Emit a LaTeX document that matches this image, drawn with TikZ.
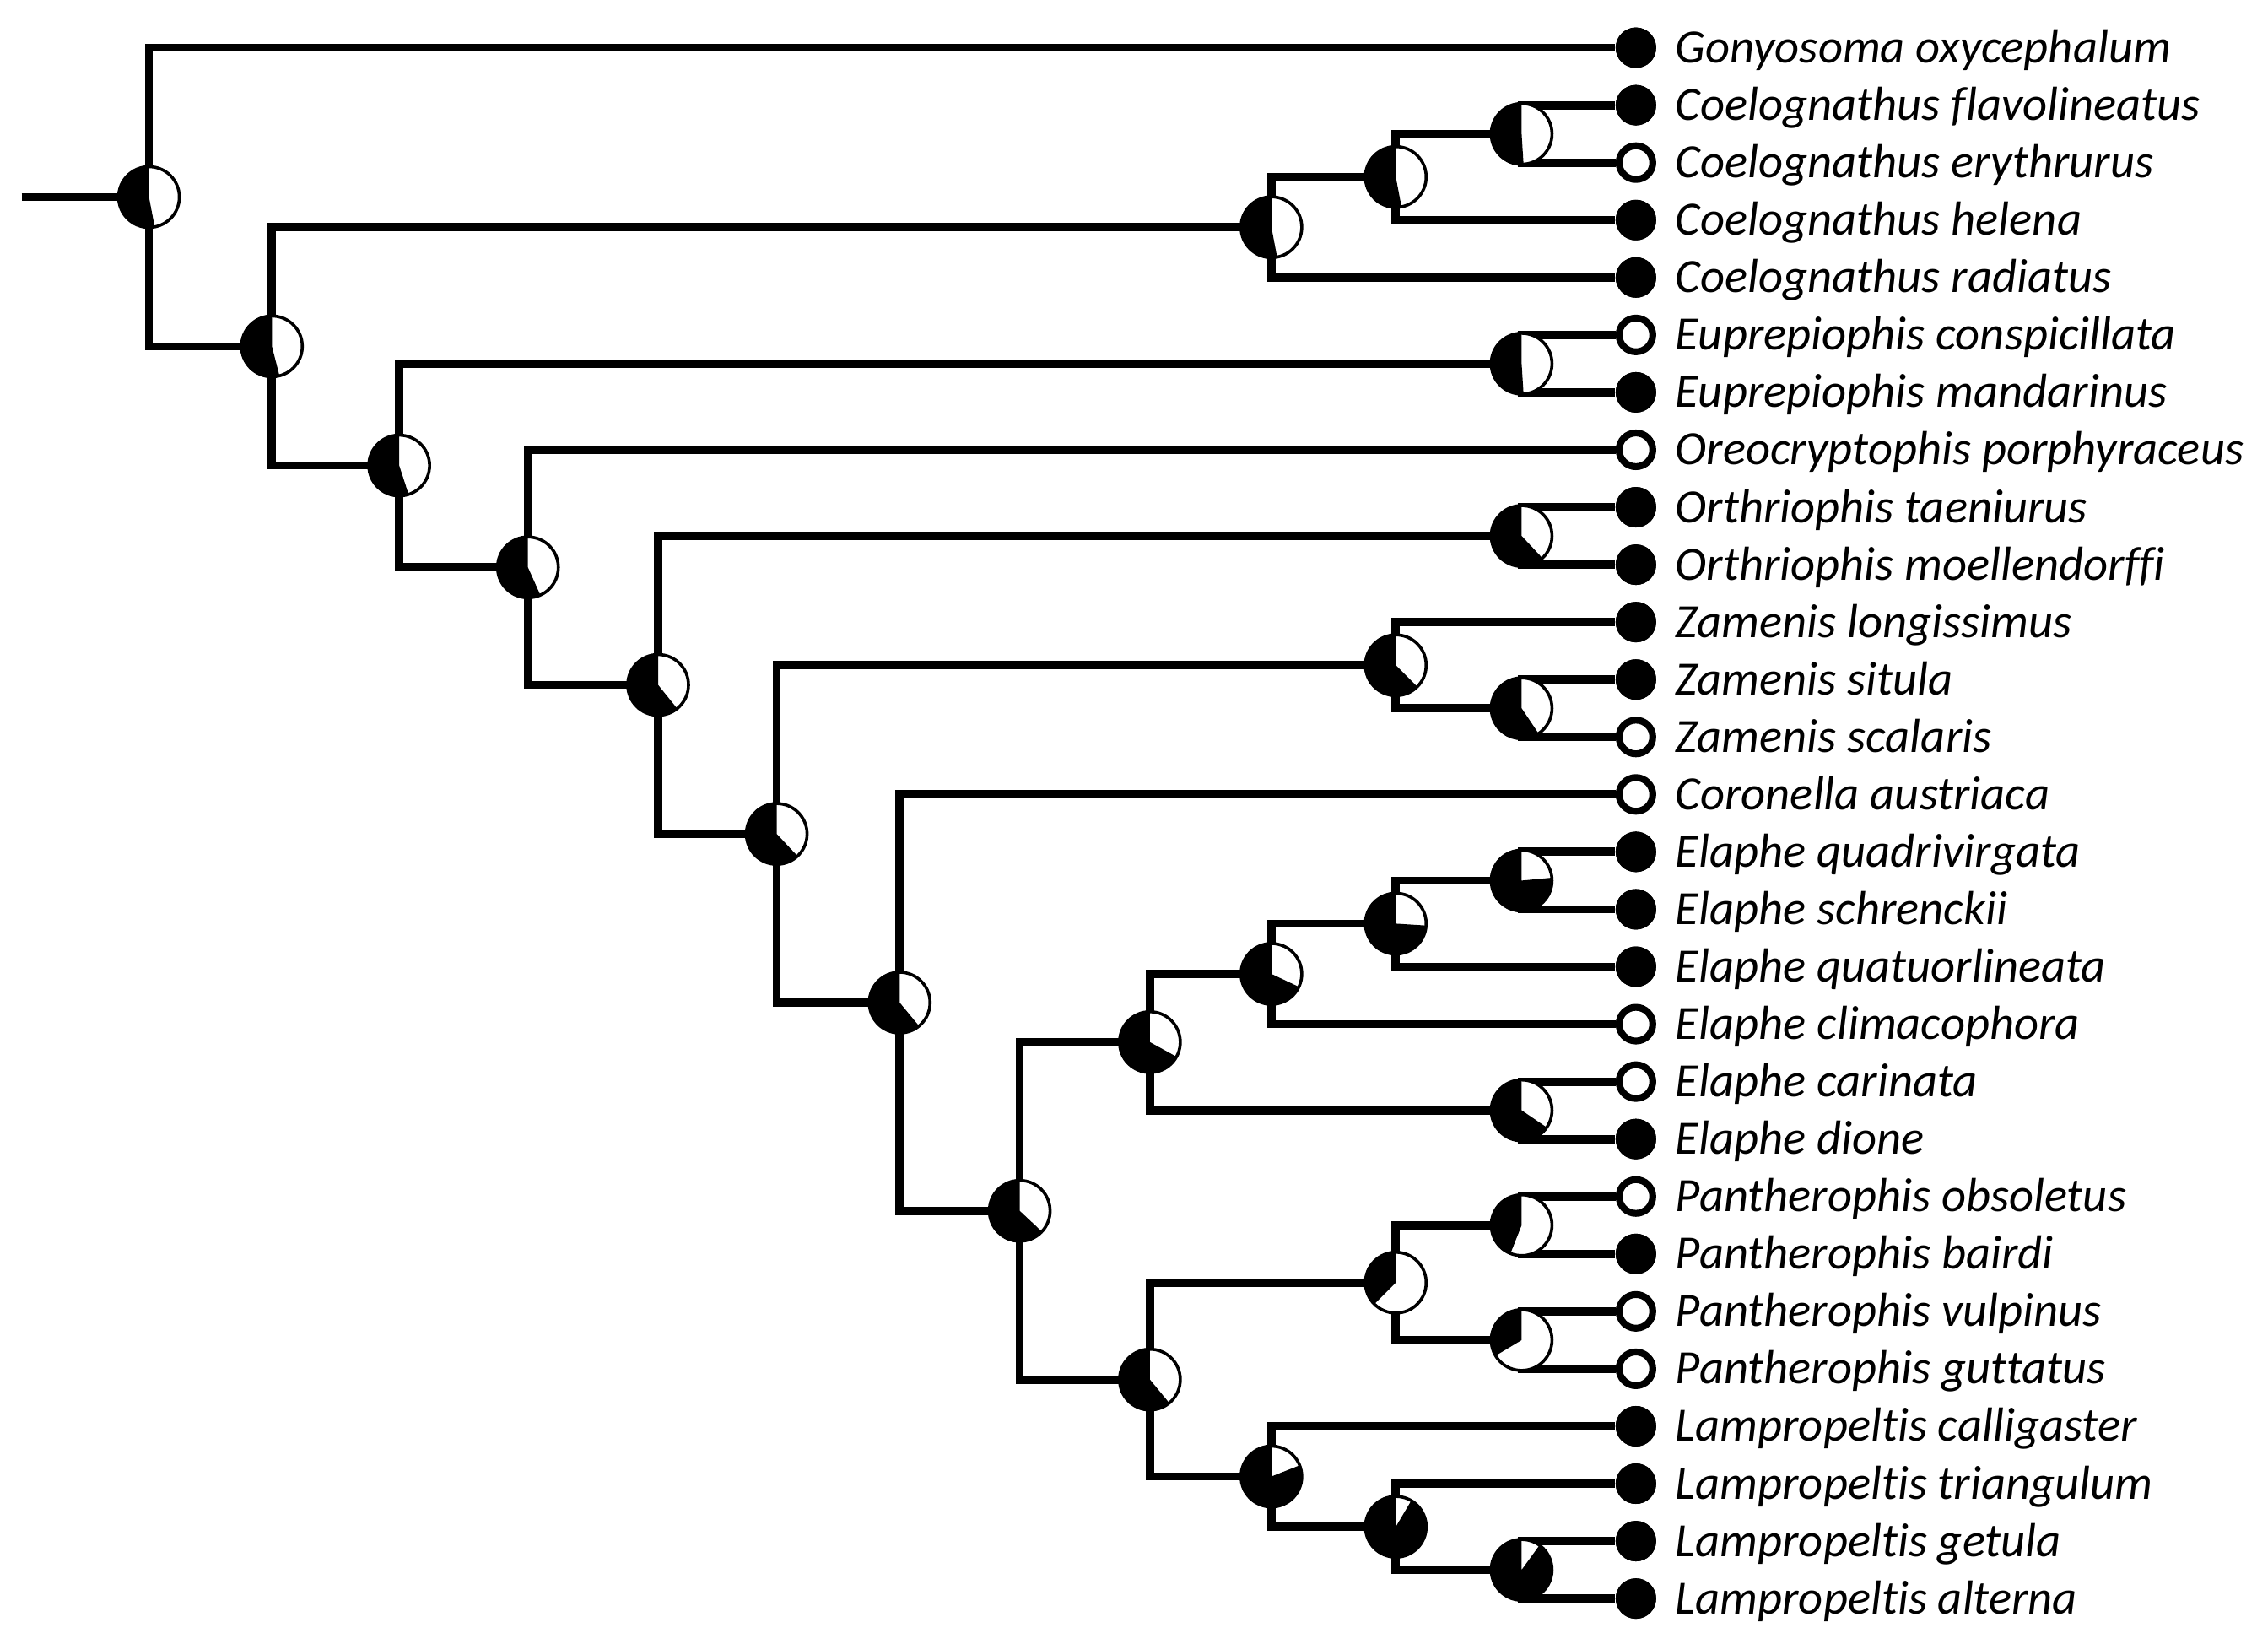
\documentclass[tikz,border=0pt]{standalone}
\usepackage{fontspec}
\setmainfont{Carlito}[Ligatures=NoCommon]
\newcommand\mypie[2]{%
  \fill[white] (#1) circle[radius=21];
  \fill[black] (#1) -- ++(90:21) arc[start angle=90, delta angle={360*#2}, radius=21] -- cycle;
  \draw[line width=1.2pt] (#1) circle[radius=21];
}
\begin{document}
\begin{tikzpicture}[x=0.02cm,y=0.02cm,
  branch/.style={line width=3.25pt, line cap=butt, line join=miter},
  tipf/.style={circle, fill=black, inner sep=0pt, minimum size=0.56cm},
  tipo/.style={circle, draw=black, fill=white, line width=2.7pt, inner sep=0pt, minimum size=0.466cm},
  lab/.style={anchor=base west, inner sep=0pt, font=\itshape\fontsize{18.8}{22}\selectfont}]
\useasboundingbox (0,0) rectangle (1568,-1136);

% internal nodes
\coordinate (stem) at (15,-136.2);
\coordinate (R) at (103,-136.2);
\coordinate (N1) at (188,-239.4);
\coordinate (C9) at (879,-157.05);
\coordinate (C10) at (965,-122.3);
\coordinate (C11) at (1052,-92.55);
\coordinate (N2) at (276,-321.75);
\coordinate (E11) at (1052,-251.35);
\coordinate (N3) at (365,-392.15);
\coordinate (N4) at (455,-473.4);
\coordinate (O11) at (1052,-370.45);
\coordinate (N5) at (537,-576.4);
\coordinate (Z10) at (965,-459.8);
\coordinate (Z11) at (1052,-489.55);
\coordinate (N6) at (622,-693);
\coordinate (N7) at (705,-836.9);
\coordinate (EL8) at (795,-720.3);
\coordinate (EL9) at (879,-673.15);
\coordinate (EL10) at (965,-638.4);
\coordinate (EL11) at (1052,-608.65);
\coordinate (EC11) at (1052,-767.45);
\coordinate (PL8) at (795,-953.55);
\coordinate (P10) at (965,-886.55);
\coordinate (P11a) at (1052,-846.85);
\coordinate (P11b) at (1052,-926.25);
\coordinate (LA9) at (879,-1020.55);
\coordinate (LA10) at (965,-1055.3);
\coordinate (LA11) at (1052,-1085.05);

% tips
\node[tipf] (t0) at (1131,-33) {};
\node[tipf] (t1) at (1131,-72.7) {};
\node[tipo] (t2) at (1131,-112.4) {};
\node[tipf] (t3) at (1131,-152.1) {};
\node[tipf] (t4) at (1131,-191.8) {};
\node[tipo] (t5) at (1131,-231.5) {};
\node[tipf] (t6) at (1131,-271.2) {};
\node[tipo] (t7) at (1131,-310.9) {};
\node[tipf] (t8) at (1131,-350.6) {};
\node[tipf] (t9) at (1131,-390.3) {};
\node[tipf] (t10) at (1131,-430) {};
\node[tipf] (t11) at (1131,-469.7) {};
\node[tipo] (t12) at (1131,-509.4) {};
\node[tipo] (t13) at (1131,-549.1) {};
\node[tipf] (t14) at (1131,-588.8) {};
\node[tipf] (t15) at (1131,-628.5) {};
\node[tipf] (t16) at (1131,-668.2) {};
\node[tipo] (t17) at (1131,-707.9) {};
\node[tipo] (t18) at (1131,-747.6) {};
\node[tipf] (t19) at (1131,-787.3) {};
\node[tipo] (t20) at (1131,-827) {};
\node[tipf] (t21) at (1131,-866.7) {};
\node[tipo] (t22) at (1131,-906.4) {};
\node[tipo] (t23) at (1131,-946.1) {};
\node[tipf] (t24) at (1131,-985.8) {};
\node[tipf] (t25) at (1131,-1025.5) {};
\node[tipf] (t26) at (1131,-1065.2) {};
\node[tipf] (t27) at (1131,-1104.9) {};

% branches
\draw[branch] (stem) -- (R);
\draw[branch] (R) |- (t0);  \draw[branch] (R) |- (N1);
\draw[branch] (N1) |- (C9); \draw[branch] (N1) |- (N2);
\draw[branch] (C9) |- (C10); \draw[branch] (C9) |- (t4);
\draw[branch] (C10) |- (C11); \draw[branch] (C10) |- (t3);
\draw[branch] (C11) |- (t1); \draw[branch] (C11) |- (t2);
\draw[branch] (N2) |- (E11); \draw[branch] (N2) |- (N3);
\draw[branch] (E11) |- (t5); \draw[branch] (E11) |- (t6);
\draw[branch] (N3) |- (t7); \draw[branch] (N3) |- (N4);
\draw[branch] (N4) |- (O11); \draw[branch] (N4) |- (N5);
\draw[branch] (O11) |- (t8); \draw[branch] (O11) |- (t9);
\draw[branch] (N5) |- (Z10); \draw[branch] (N5) |- (N6);
\draw[branch] (Z10) |- (t10); \draw[branch] (Z10) |- (Z11);
\draw[branch] (Z11) |- (t11); \draw[branch] (Z11) |- (t12);
\draw[branch] (N6) |- (t13); \draw[branch] (N6) |- (N7);
\draw[branch] (N7) |- (EL8); \draw[branch] (N7) |- (PL8);
\draw[branch] (EL8) |- (EL9); \draw[branch] (EL8) |- (EC11);
\draw[branch] (EL9) |- (EL10); \draw[branch] (EL9) |- (t17);
\draw[branch] (EL10) |- (EL11); \draw[branch] (EL10) |- (t16);
\draw[branch] (EL11) |- (t14); \draw[branch] (EL11) |- (t15);
\draw[branch] (EC11) |- (t18); \draw[branch] (EC11) |- (t19);
\draw[branch] (PL8) |- (P10); \draw[branch] (PL8) |- (LA9);
\draw[branch] (P10) |- (P11a); \draw[branch] (P10) |- (P11b);
\draw[branch] (P11a) |- (t20); \draw[branch] (P11a) |- (t21);
\draw[branch] (P11b) |- (t22); \draw[branch] (P11b) |- (t23);
\draw[branch] (LA9) |- (t24); \draw[branch] (LA9) |- (LA10);
\draw[branch] (LA10) |- (t25); \draw[branch] (LA10) |- (LA11);
\draw[branch] (LA11) |- (t26); \draw[branch] (LA11) |- (t27);

% pies
\mypie{R}{0.53}
\mypie{N1}{0.54}
\mypie{N2}{0.55}
\mypie{N3}{0.567}
\mypie{N4}{0.608}
\mypie{N5}{0.62}
\mypie{N6}{0.61}
\mypie{N7}{0.63}
\mypie{C9}{0.53}
\mypie{C10}{0.53}
\mypie{C11}{0.51}
\mypie{E11}{0.51}
\mypie{O11}{0.62}
\mypie{Z10}{0.625}
\mypie{Z11}{0.594}
\mypie{EL8}{0.67}
\mypie{EL9}{0.68}
\mypie{EL10}{0.74}
\mypie{EL11}{0.765}
\mypie{EC11}{0.655}
\mypie{PL8}{0.61}
\mypie{P10}{0.375}
\mypie{P11a}{0.44}
\mypie{P11b}{0.336}
\mypie{LA9}{0.81}
\mypie{LA10}{0.915}
\mypie{LA11}{0.90}

% redraw tips on top
\foreach \i in {0,1,3,4,6,8,9,10,11,14,15,16,19,21,24,25,26,27} {\fill (t\i) circle[radius=14];}

% labels
\node[lab] (l0) at (1158,-43.5) {Gonyosoma oxycephalum};
\node[lab] (l1) at (1158,-83.2) {Coelognathus flavolineatus};
\node[lab] (l2) at (1158,-122.9) {Coelognathus erythrurus};
\node[lab] (l3) at (1158,-162.6) {Coelognathus helena};
\node[lab] (l4) at (1158,-202.3) {Coelognathus radiatus};
\node[lab] (l5) at (1158,-242) {Euprepiophis conspicillata};
\node[lab] (l6) at (1158,-281.7) {Euprepiophis mandarinus};
\node[lab] (l7) at (1158,-321.4) {Oreocryptophis porphyraceus};
\node[lab] (l8) at (1158,-361.1) {Orthriophis taeniurus};
\node[lab] (l9) at (1158,-400.8) {Orthriophis moellendorffi};
\node[lab] (l10) at (1158,-440.5) {Zamenis longissimus};
\node[lab] (l11) at (1158,-480.2) {Zamenis situla};
\node[lab] (l12) at (1158,-519.9) {Zamenis scalaris};
\node[lab] (l13) at (1158,-559.6) {Coronella austriaca};
\node[lab] (l14) at (1158,-599.3) {Elaphe quadrivirgata};
\node[lab] (l15) at (1158,-639) {Elaphe schrenckii};
\node[lab] (l16) at (1158,-678.7) {Elaphe quatuorlineata};
\node[lab] (l17) at (1158,-718.4) {Elaphe climacophora};
\node[lab] (l18) at (1158,-758.1) {Elaphe carinata};
\node[lab] (l19) at (1158,-797.8) {Elaphe dione};
\node[lab] (l20) at (1158,-837.5) {Pantherophis obsoletus};
\node[lab] (l21) at (1158,-877.2) {Pantherophis bairdi};
\node[lab] (l22) at (1158,-916.9) {Pantherophis vulpinus};
\node[lab] (l23) at (1158,-956.6) {Pantherophis guttatus};
\node[lab] (l24) at (1158,-996.3) {Lampropeltis calligaster};
\node[lab] (l25) at (1158,-1036) {Lampropeltis triangulum};
\node[lab] (l26) at (1158,-1075.7) {Lampropeltis getula};
\node[lab] (l27) at (1158,-1115.4) {Lampropeltis alterna};
\end{tikzpicture}
\end{document}
